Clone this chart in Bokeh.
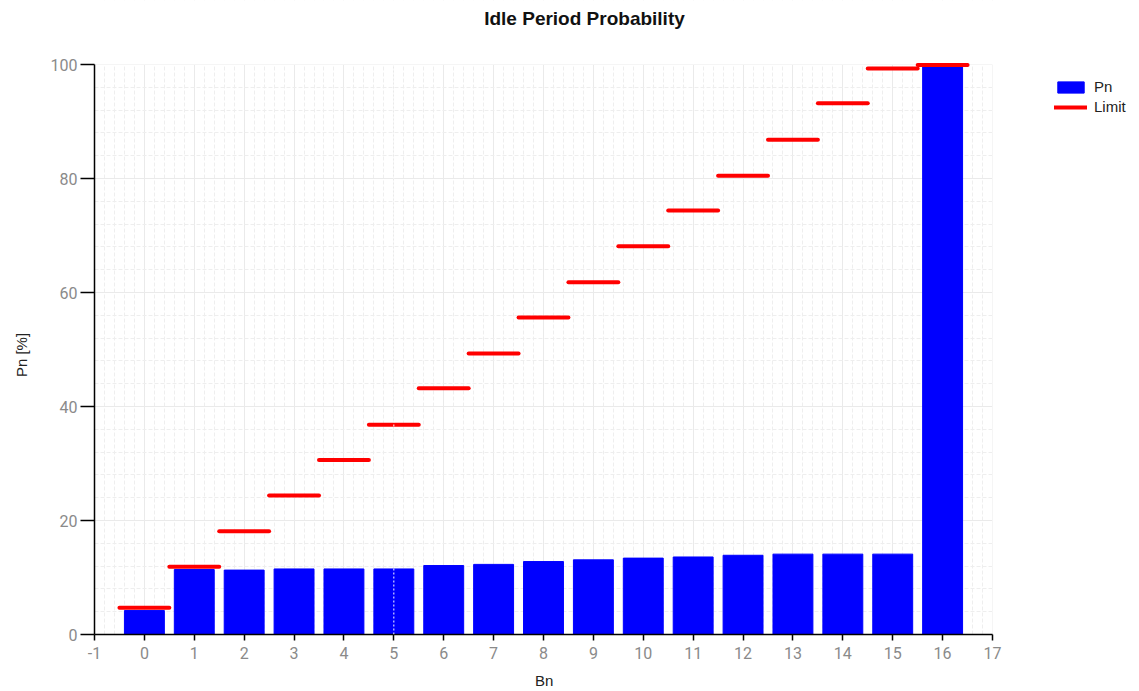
from bokeh.plotting import figure
from bokeh.models import (Range1d, SingleIntervalTicker, Legend, LegendItem, Span, Label, BoxAnnotation)
from bokeh.embed import file_html
from bokeh.resources import INLINE

# ---- data ----
bn = list(range(17))
pn = [4.2, 11.4, 11.3, 11.5, 11.5, 11.5, 12.1, 12.3, 12.8, 13.1, 13.4, 13.6, 13.9, 14.1, 14.1, 14.1, 100.0]
limit = [4.7, 11.9, 18.1, 24.4, 30.6, 36.8, 43.2, 49.3, 55.6, 61.8, 68.1, 74.4, 80.5, 86.8, 93.2, 99.3, 99.9]
cursor_bn = 5
title_text = "Idle Period Probability"
x_label = "Bn"
y_label = "Pn [%]"
series_names = ["Pn", "Limit"]
x_axis_range = (-1, 17)
y_axis_range = (0, 100)
x_tick_labels = {i: str(i) for i in range(-1, 18)}

TICK_FONT = "Roboto"
LABEL_FONT = "Liberation Sans"
LABEL_SIZE = 15

# ---- layout (pixels) ----
W, H = 1139, 691
LEFT, BOTTOM = 94, 57
AXIS_W_PX, AXIS_H_PX = 898, 570          # drawn axis extents
frame_w, frame_h = W - LEFT, H - BOTTOM
px_x = AXIS_W_PX / (x_axis_range[1] - x_axis_range[0])
px_y = AXIS_H_PX / (y_axis_range[1] - y_axis_range[0])
x_end = x_axis_range[0] + frame_w / px_x
y_end = y_axis_range[0] + frame_h / px_y

def to_data(px, py):
    """page pixel -> data coordinates (for annotations only)"""
    return x_axis_range[0] + (px - LEFT) / px_x, y_axis_range[0] + (frame_h - py) / px_y

# axis titles are centred on the (extended) frame; pad them so they sit centred on the drawn axes
NBSP = "\u00a0"
space_px = 0.278 * LABEL_SIZE
x_shift = frame_w / 2 - AXIS_W_PX / 2          # px to move left
y_shift = 37                                     # px to move down
x_label_text = x_label + NBSP * round(2 * x_shift / space_px)
y_label_text = y_label + NBSP * round(2 * y_shift / space_px)

p = figure(width=W, height=H, output_backend="svg", toolbar_location=None,
           x_range=Range1d(x_axis_range[0], x_end), y_range=Range1d(y_axis_range[0], y_end),
           min_border_left=LEFT, min_border_right=0, min_border_top=0, min_border_bottom=BOTTOM)
p.outline_line_color = None
p.background_fill_color = "white"
p.border_fill_color = "white"

# grid
for g in (p.xgrid[0], p.ygrid[0]):
    g.grid_line_color = "#eaeaea"
    g.grid_line_width = 1
    g.minor_grid_line_color = "#eeeeee"
    g.minor_grid_line_dash = "4 2"
    g.minor_grid_line_width = 1

# mask the grid outside the chart area
p.add_layout(BoxAnnotation(left=x_axis_range[1], fill_color="white", fill_alpha=1, line_color=None, level="underlay"))
p.add_layout(BoxAnnotation(bottom=y_axis_range[1], fill_color="white", fill_alpha=1, line_color=None, level="underlay"))

bars = p.vbar(x=bn, top=pn, width=0.8, fill_color="#0000ff", line_color="#0000ff")
x0 = [b - 0.5 for b in bn]
x1 = [b + 0.5 for b in bn]
lims = p.segment(x0=x0, y0=limit, x1=x1, y1=limit, line_color="#ff0000", line_width=4, line_cap="round")

p.add_layout(Span(location=cursor_bn, dimension="height", line_color="white", line_width=1, line_dash="2 2"))

# axes
p.xaxis.ticker = SingleIntervalTicker(interval=1, num_minor_ticks=5)
p.yaxis.ticker = SingleIntervalTicker(interval=20, num_minor_ticks=5)
p.xaxis.bounds = x_axis_range
p.yaxis.bounds = y_axis_range
p.xaxis.major_label_overrides = x_tick_labels
for ax in (p.xaxis[0], p.yaxis[0]):
    ax.axis_line_color = "black"
    ax.axis_line_width = 1.5
    ax.major_tick_line_color = "black"
    ax.major_tick_line_width = 1.5
    ax.major_tick_in = 0
    ax.minor_tick_line_color = None
    ax.major_label_text_font = TICK_FONT
    ax.major_label_text_font_size = "16px"
    ax.major_label_text_color = "#8a8a8a"
    ax.axis_label_text_font = LABEL_FONT
    ax.axis_label_text_font_size = f"{LABEL_SIZE}px"
    ax.axis_label_text_font_style = "normal"
    ax.axis_label_text_color = "#222222"
p.xaxis.major_tick_out = 6
p.xaxis.major_label_standoff = 6
p.xaxis.axis_label_standoff = 10
p.yaxis.major_tick_out = 14
p.yaxis.major_label_standoff = 3
p.yaxis.axis_label_standoff = 18
p.xaxis.axis_label = x_label_text
p.yaxis.axis_label = y_label_text

# legend (inside the extended frame, to the right of the chart)
legend = Legend(items=[LegendItem(label=series_names[0], renderers=[bars]),
                       LegendItem(label=series_names[1], renderers=[lims])],
                location=(1054 - LEFT, frame_h - 78 - 37), orientation="vertical",
                glyph_width=33, glyph_height=14, label_height=17, label_standoff=7,
                spacing=3, padding=0, margin=0,
                border_line_color=None, background_fill_alpha=0,
                label_text_font=LABEL_FONT, label_text_font_size=f"{LABEL_SIZE}px",
                label_text_color="#222222")
p.add_layout(legend, "center")

# title
tx, ty = to_data(584, 18)
p.add_layout(Label(x=tx, y=ty, text=title_text, text_align="center", text_baseline="middle",
                   text_font=LABEL_FONT, text_font_size="19px", text_font_style="bold",
                   text_color="#111111"))

open("out.html", "w").write(file_html(p, INLINE))
